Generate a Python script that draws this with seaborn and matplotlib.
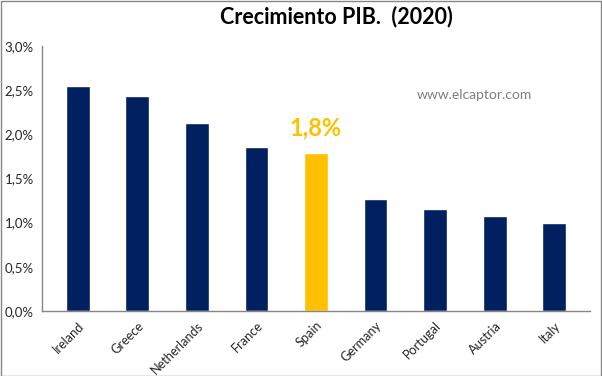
import matplotlib
matplotlib.use('Agg')
import matplotlib.pyplot as plt
import seaborn as sns
import pandas as pd
from matplotlib.patches import Rectangle

countries = ['Ireland', 'Greece', 'Netherlands', 'France', 'Spain',
             'Germany', 'Portugal', 'Austria', 'Italy']
growth = [2.55, 2.43, 2.13, 1.86, 1.79, 1.27, 1.15, 1.075, 1.0]
ytick_vals = [0.0, 0.5, 1.0, 1.5, 2.0, 2.5, 3.0]
ytick_labels = ['0,0%', '0,5%', '1,0%', '1,5%', '2,0%', '2,5%', '3,0%']

navy = '#002060'
gold = '#FFC000'
palette = {c: (gold if c == 'Spain' else navy) for c in countries}

sns.set_style('white')
plt.rcParams['font.family'] = ['Lato', 'DejaVu Sans']

df = pd.DataFrame({'country': countries, 'growth': growth})

fig = plt.figure(figsize=(6.02, 3.76), dpi=100)
ax = fig.add_axes([0.0698, 0.1729, 0.9102, 0.7048])

sns.barplot(data=df, x='country', y='growth', hue='country', palette=palette,
            width=0.4, legend=False, ax=ax, saturation=1)

ax.set_xlim(-0.6, 8.6)
ax.set_ylim(0, 3.0)
ax.set_yticks(ytick_vals)
ax.set_yticklabels(ytick_labels, fontsize=9.5)
ax.set_xticks(range(len(countries)))
ax.set_xticklabels(countries, rotation=45, ha='right', rotation_mode='anchor', fontsize=9.2)
ax.tick_params(axis='both', length=0, pad=6)
ax.set_xlabel('')
ax.set_ylabel('')

for side in ['top', 'right']:
    ax.spines[side].set_visible(False)
for side in ['left', 'bottom']:
    ax.spines[side].set_color('#868686')
    ax.spines[side].set_linewidth(1)

# highlight label for Spain
i = countries.index('Spain')
ax.text(i, growth[i] + 0.15, '1,8%', ha='center', va='bottom', color=gold,
        fontsize=17, fontweight='bold')

ax.text(6.66, 2.45, 'www.elcaptor.com', ha='center', va='center',
        color='#7f7f7f', fontsize=10)

fig.text(0.558, 0.955, 'Crecimiento PIB.  (2020)', ha='center', va='center',
         fontsize=15.5, fontweight='bold', color='black')

# outer frame
fig.patches.append(Rectangle((0.001, 0.001), 0.997, 0.996, transform=fig.transFigure,
                             fill=False, edgecolor='#868686', linewidth=1))

fig.savefig('out.png', dpi=100)
